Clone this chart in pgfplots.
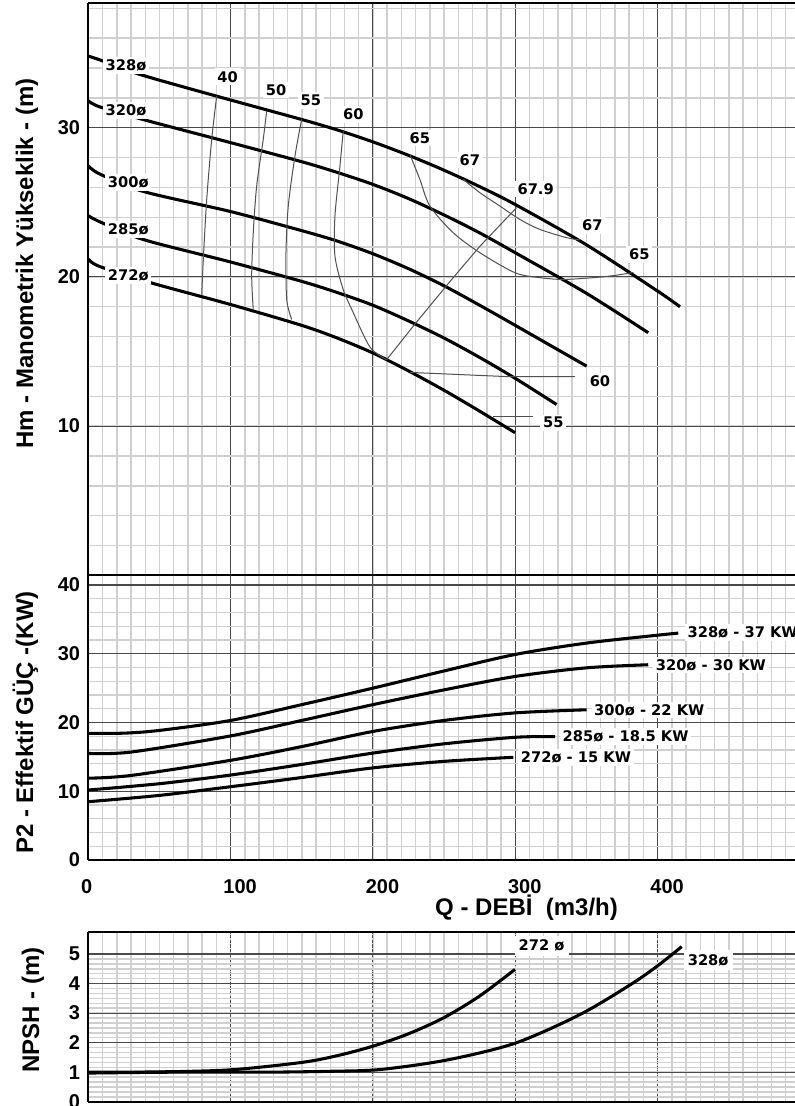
\documentclass[border=0pt]{standalone}
\usepackage{pgfplots}
\pgfplotsset{compat=1.18}
\usepackage{fontspec}
\setmainfont{Liberation Sans}
\newfontfamily\dv{DejaVu Sans}
\definecolor{majg}{HTML}{4A4A4A}
\definecolor{ming}{HTML}{D0D0D0}
\definecolor{iso}{HTML}{505050}
\tikzset{lab/.style={font=\dv\bfseries\fontsize{11}{13}\selectfont, fill=white, inner sep=2pt}}
\pgfplotsset{
  pump/.style={
    scale only axis, width=530pt, xmin=0, xmax=496.5,
    axis x line*=box, axis y line*=left,
    axis line style={line width=1.6pt,-},
    every outer x axis line/.append style={-},
    every outer y axis line/.append style={-},
    xtick={0,100,200,300,400}, minor xtick={0,10,...,490},
    grid=both,
    major grid style={majg, line width=0.8pt},
    minor grid style={ming, line width=1.1pt},
    major tick length=0pt, minor tick length=0pt,
    tick label style={font=\fontsize{15}{18}\selectfont\bfseries},
    /pgf/number format/assume math mode=true,
    yticklabel style={anchor=east, inner sep=0pt, xshift=-6pt},
    clip=true,
  },
  curve/.style={black, line width=2.3pt, smooth, no marks},
  isol/.style={iso, line width=0.75pt, smooth, no marks},
}
\begin{document}
\begin{tikzpicture}
\useasboundingbox (0,0) rectangle (596.25pt,-829.5pt);
\fill[white] (0,0) rectangle (596.25pt,-829.5pt);

% ---------------- Top panel: Hm ----------------
\begin{axis}[pump, at={(66.225pt,-431.475pt)}, anchor=south west, height=429pt,
  ymin=0, ymax=38.34, ytick={0,10,20,30}, yticklabels={,10,20,30},
  minor ytick={0,2,...,38}, xticklabels={}]
\addplot[curve] coordinates {(0,34.8)(8,34.55)(36.3,33.57)(90,32.12)(150,30.55)(175,29.85)(200,29.05)(225,28.15)(250,27.15)(275,26.05)(300,24.85)(350,22.15)(400,19.05)(415.7,18.0)};
\addplot[curve] coordinates {(0,31.8)(8,31.4)(38.5,30.55)(100,29.0)(150,27.72)(175,27.0)(200,26.2)(225,25.25)(250,24.15)(275,22.95)(300,21.62)(350,18.9)(393.4,16.26)};
\addplot[curve] coordinates {(0,27.45)(8,26.9)(38.5,25.73)(100,24.38)(150,23.1)(175,22.4)(200,21.55)(225,20.55)(250,19.4)(275,18.1)(300,16.75)(350.1,14.02)};
\addplot[curve] coordinates {(0,24.1)(8,23.7)(38.5,22.51)(100,21.0)(150,19.7)(175,18.95)(200,18.1)(225,17.05)(250,15.9)(275,14.6)(300,13.2)(329,11.45)};
\addplot[curve] coordinates {(0,21.2)(8,20.7)(45.7,19.56)(100,18.15)(150,16.75)(175,15.9)(200,14.9)(225,13.7)(250,12.4)(275,11.0)(299.8,9.56)};
% iso-efficiency lines
\addplot[isol] coordinates {(90.2,32.12)(86.7,29.22)(83.2,25.19)(80.8,21.17)(79.7,18.82)};
\addplot[isol] coordinates {(125.3,31.11)(122.9,29.22)(118.3,26.09)(115.9,22.96)(114.8,20.05)(115.9,17.82)};
\addplot[isol] coordinates {(149.9,30.56)(145.2,28.10)(140.5,24.75)(138.9,21.62)(139.4,18.49)(142.9,17.15)};
\addplot[isol] coordinates {(179.1,29.77)(176.8,27.43)(173.3,24.08)(173.3,21.39)(179.1,19.16)(186.2,17.6)(197.9,15.3)(209.6,14.45)};
\addplot[iso, line width=0.75pt, no marks] coordinates {(226,13.6)(296.2,13.31)(341.9,13.31)};
\addplot[iso, line width=0.75pt, no marks] coordinates {(209.6,14.45)(228.3,16.70)(255.3,19.83)(275.2,22.06)(300.9,24.64)};
\addplot[isol] coordinates {(226,28.2)(233,26.53)(240,24.75)(256.4,22.96)(275.2,21.62)(299.8,20.28)(317.4,19.95)(333.7,19.83)(354.8,19.95)(370,20.1)(382.9,20.3)};
\addplot[isol] coordinates {(263.4,26.54)(275.2,25.64)(289.2,24.75)(303.3,23.85)(317.4,23.18)(336.1,22.63)(345.4,22.48)};
\addplot[iso, line width=0.75pt, no marks] coordinates {(284.5,10.67)(312.6,10.67)};
% labels
\node[lab] at (axis cs:26.5,34.2) {328ø};
\node[lab] at (axis cs:26.5,31.16) {320ø};
\node[lab] at (axis cs:28.1,26.35) {300ø};
\node[lab] at (axis cs:28.1,23.18) {285ø};
\node[lab] at (axis cs:28.1,20.1) {272ø};
\node[lab] at (axis cs:97.9,33.42) {40};
\node[lab] at (axis cs:131.9,32.52) {50};
\node[lab] at (axis cs:156.4,31.83) {55};
\node[lab] at (axis cs:186.2,30.89) {60};
\node[lab] at (axis cs:233,29.33) {65};
\node[lab] at (axis cs:268.1,27.83) {67};
\node[lab] at (axis cs:314.3,25.91) {67.9};
\node[lab] at (axis cs:354.1,23.45) {67};
\node[lab] at (axis cs:387.1,21.51) {65};
\node[lab] at (axis cs:359.5,12.98) {60};
\node[lab] at (axis cs:326.7,10.23) {55};
\end{axis}

% ---------------- Middle panel: P2 ----------------
\begin{axis}[pump, at={(66.225pt,-645pt)}, anchor=south west, height=213.525pt,
  ymin=0, ymax=41.41, ytick={0,10,20,30,40}, minor ytick={0,2,...,40},
  xticklabel style={anchor=base west, inner sep=0pt, xshift=-5.6pt, yshift=-25.1pt}]
\addplot[curve] coordinates {(0,18.43)(25,18.45)(50,18.85)(100,20.3)(150,22.6)(200,25.0)(250,27.5)(300,29.9)(350,31.55)(400,32.7)(414.5,33.0)};
\addplot[curve] coordinates {(0,15.5)(30,15.7)(100,18.05)(150,20.3)(200,22.6)(250,24.75)(300,26.7)(350,27.95)(393.4,28.4)};
\addplot[curve] coordinates {(0,11.9)(30,12.3)(100,14.5)(150,16.5)(200,18.7)(250,20.3)(300,21.4)(350.1,21.85)};
\addplot[curve] coordinates {(0,10.18)(50,11.1)(100,12.36)(150,13.9)(200,15.55)(250,16.9)(300,17.85)(327.9,17.95)};
\addplot[curve] coordinates {(0,8.48)(50,9.4)(100,10.66)(150,12.0)(200,13.4)(250,14.35)(298.6,14.94)};
\node[lab, anchor=west] at (axis cs:419,33.06) {328ø - 37 KW};
\node[lab, anchor=west] at (axis cs:396.7,28.36) {320ø - 30 KW};
\node[lab, anchor=west] at (axis cs:353.4,21.82) {300ø - 22 KW};
\node[lab, anchor=west] at (axis cs:331.2,17.93) {285ø - 18.5 KW};
\node[lab, anchor=west] at (axis cs:301.9,14.94) {272ø - 15 KW};
\end{axis}

% ---------------- Bottom panel: NPSH ----------------
\begin{axis}[pump, at={(66.225pt,-826.275pt)}, anchor=south west, height=127.5pt,
  ymin=0, ymax=5.755, ytick={0,1,2,3,4,5}, minor ytick={0,0.16667,...,5},
  xticklabels={}, major x grid style={dash pattern=on 2.5pt off 1pt}]
\addplot[curve] coordinates {(0,1.0)(50,1.01)(100,1.08)(150,1.33)(175,1.56)(200,1.88)(225,2.3)(250,2.85)(275,3.58)(299.8,4.48)};
\addplot[curve] coordinates {(0,0.97)(60,1.0)(125,1.0)(170,1.03)(205,1.09)(251.8,1.41)(299.8,1.98)(345.4,2.95)(380.5,3.95)(400,4.6)(416.9,5.25)};
\node[lab, inner sep=3pt] at (axis cs:318.5,5.28) {272 ø};
\node[lab, inner sep=3pt] at (axis cs:435.5,4.8) {328ø};
\end{axis}

% ---------------- axis titles ----------------
\node[rotate=90, anchor=base, font=\fontsize{18}{22}\selectfont\bfseries] at (24.75pt,-197.6pt) {Hm - Manometrik Yükseklik - (m)};
\node[rotate=90, anchor=base, font=\fontsize{18}{22}\selectfont\bfseries] at (24.75pt,-541.9pt) {P2 - Effektif GÜÇ -(KW)};
\node[rotate=90, anchor=base, font=\fontsize{18}{22}\selectfont\bfseries] at (29.25pt,-757.5pt) {NPSH - (m)};
\node[anchor=base, font=\fontsize{18}{22}\selectfont\bfseries] at (394.9pt,-686.25pt) {Q - DEBİ~~(m3/h)};
\end{tikzpicture}
\end{document}
